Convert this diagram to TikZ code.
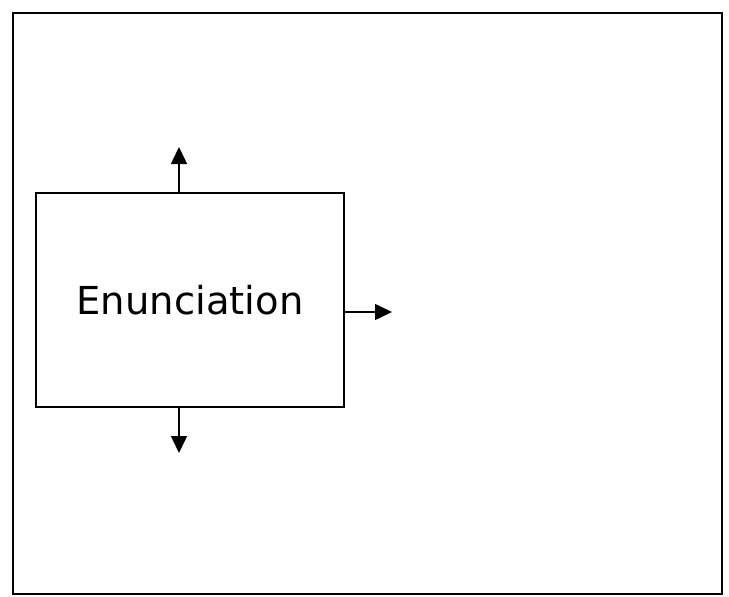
\documentclass[tikz,border=0pt]{standalone}
\usepackage{fontspec}
\setmainfont{DejaVu Sans}
\usetikzlibrary{arrows.meta}

\tikzset{
    stage/.style={draw,line width=1.8pt,minimum width=308pt,minimum height=214pt,
        inner sep=0pt,font=\fontsize{38.5}{44}\selectfont},
    flow/.style={line width=1.5pt,-{Triangle[length=17pt,width=16pt]}}
}

\begin{document}
\begin{tikzpicture}[x=1pt,y=-1pt]
\useasboundingbox (0,0) rectangle (729,597);
\draw[line width=2.2pt] (13,13) rectangle (722,594);
\node[stage] (enun) at (190,300) {Enunciation};
% free ends of the outputs
\coordinate (upend) at (179,147);
\coordinate (downend) at (179,453);
\coordinate (rightend) at (392,312);
\draw[flow] (upend |- enun.north) -- (upend);
\draw[flow] (downend |- enun.south) -- (downend);
\draw[flow] (enun.east |- rightend) -- (rightend);
\end{tikzpicture}
\end{document}
